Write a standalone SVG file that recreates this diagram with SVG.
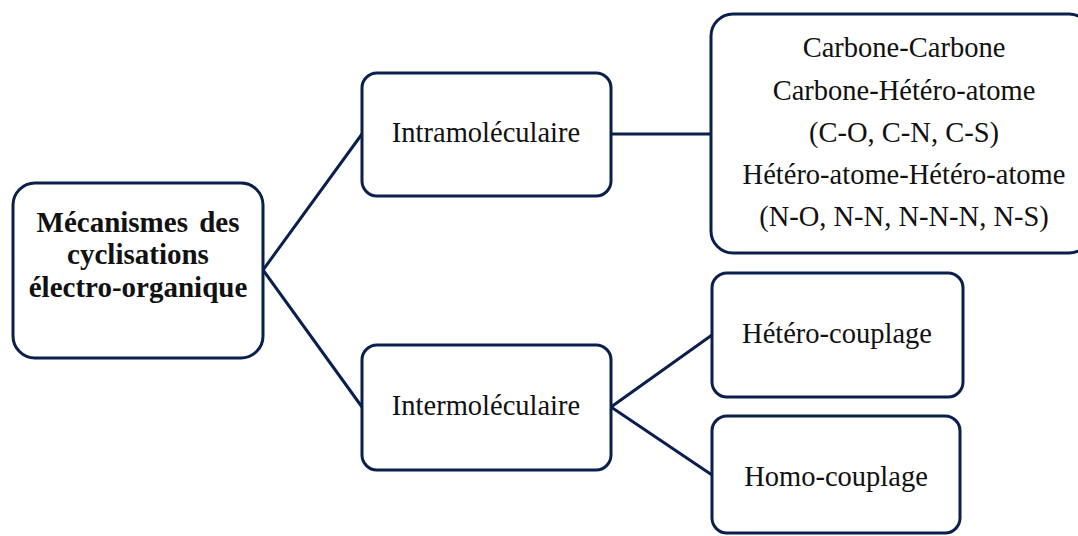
<svg xmlns="http://www.w3.org/2000/svg" width="1078" height="536" viewBox="0 0 1078 536">
  <style>
    .box { fill: #ffffff; stroke: #0b1f4d; stroke-width: 3; }
    .conn { fill: none; stroke: #0b1f4d; stroke-width: 3; }
    .t { font-family: "Liberation Serif", "Times New Roman", serif; font-size: 28.5px; fill: #111111; text-anchor: middle; }
    .b { font-weight: bold; font-size: 29px; }
  </style>
  <rect width="1078" height="536" fill="#ffffff"/>
  <g id="connectors">
    <polyline class="conn" points="362,134 263,270 362,407"/>
    <line class="conn" x1="611" y1="134" x2="711" y2="134"/>
    <polyline class="conn" points="712,335 611,407 712,475"/>
  </g>
  <g id="root">
    <rect class="box" x="13" y="183" width="250" height="175" rx="22"/>
    <text class="t b" x="138" y="232" word-spacing="4">Mécanismes des</text>
    <text class="t b" x="138" y="264">cyclisations</text>
    <text class="t b" x="138" y="297">électro-organique</text>
  </g>
  <g id="intra">
    <rect class="box" x="362" y="73" width="249" height="123" rx="15"/>
    <text class="t" x="486" y="142">Intramoléculaire</text>
  </g>
  <g id="inter">
    <rect class="box" x="362" y="345" width="249" height="125" rx="15"/>
    <text class="t" x="486" y="415">Intermoléculaire</text>
  </g>
  <g id="types">
    <rect class="box" x="711" y="14" width="380" height="239" rx="22"/>
    <text class="t" x="904" y="57">Carbone-Carbone</text>
    <text class="t" x="904" y="100">Carbone-Hétéro-atome</text>
    <text class="t" x="904" y="142">(C-O, C-N, C-S)</text>
    <text class="t" x="904" y="184">Hétéro-atome-Hétéro-atome</text>
    <text class="t" x="904" y="226">(N-O, N-N, N-N-N, N-S)</text>
  </g>
  <g id="hetero">
    <rect class="box" x="712" y="273" width="251" height="124" rx="15"/>
    <text class="t" x="837" y="343">Hétéro-couplage</text>
  </g>
  <g id="homo">
    <rect class="box" x="712" y="416" width="248" height="117" rx="15"/>
    <text class="t" x="836" y="486">Homo-couplage</text>
  </g>
</svg>
